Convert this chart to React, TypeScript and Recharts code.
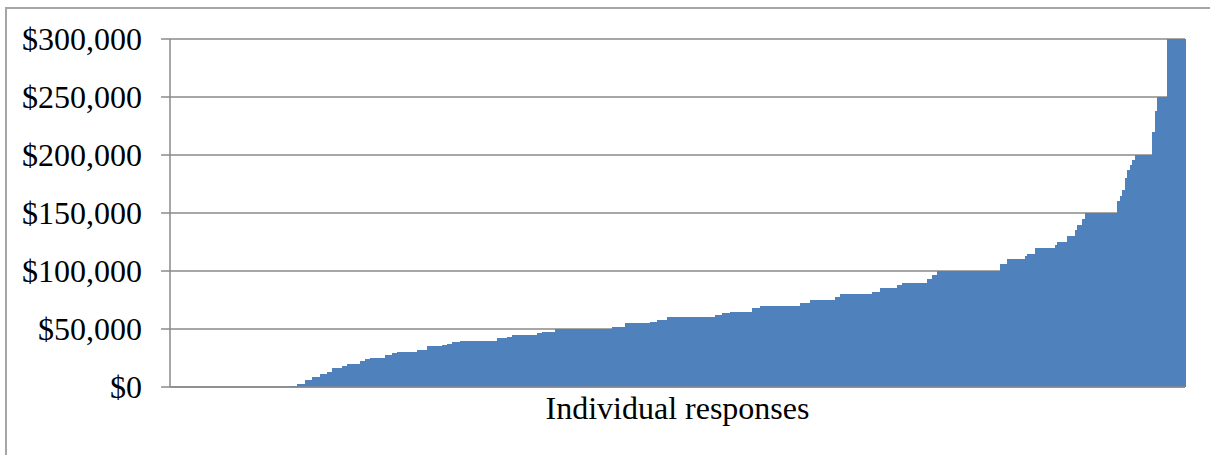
import React from 'react';
import { BarChart, Bar, XAxis, YAxis, CartesianGrid, Label } from 'recharts';

// sorted responses: each salary level and how many responses sit at it
const salaryLevels = [
  0, 1000, 3000, 6000, 9000, 11000, 13000, 16000, 18000, 20000,
  22000, 24000, 25000, 28000, 29000, 30000, 32000, 35000, 36000, 37500,
  39000, 40000, 42000, 43500, 45000, 46500, 47500, 50000, 52000, 55000,
  56000, 58000, 60000, 62500, 64000, 65000, 68000, 70000, 72000, 75000,
  78000, 80000, 82000, 85000, 88000, 90000, 93000, 96500, 100000, 106000,
  110000, 113000, 115000, 120000, 122000, 125000, 130000, 135000, 140000, 145000,
  150000, 160000, 165000, 170000, 180000, 187000, 191000, 196000, 200000, 220000,
  238000, 250000, 300000,
];
const responseCounts = [
  48, 3, 3, 3, 3, 3, 2, 4, 2, 5,
  2, 2, 6, 3, 2, 8, 4, 6, 2, 2,
  3, 15, 4, 2, 10, 2, 5, 23, 5, 10,
  3, 4, 19, 3, 3, 9, 3, 16, 4, 10,
  2, 13, 3, 7, 2, 10, 2, 2, 25, 3,
  7, 1, 3, 8, 1, 4, 3, 1, 2, 1,
  13, 1, 1, 1, 1, 1, 1, 1, 7, 1,
  1, 4, 7,
];
const yTicks = [0, 50000, 100000, 150000, 200000, 250000, 300000];
const xTitle = 'Individual responses';

const data: { id: number; salary: number }[] = [];
salaryLevels.forEach((level, i) => {
  for (let k = 0; k < responseCounts[i]; k++) {
    data.push({ id: data.length + 1, salary: level });
  }
});

const FONT = '"Liberation Serif", "Times New Roman", serif';
const GRID = '#8a8a8a';
const BLUE = '#4F81BD';

// columns touch each other, so widen each one a little and snap to pixels (no seams)
const SolidColumn = (props: any) => {
  const { x, y, width, height } = props;
  if (!height || height <= 0) return null;
  return (
    <rect
      x={x - 0.5}
      y={y}
      width={width + 1}
      height={height}
      fill={BLUE}
      shapeRendering="crispEdges"
    />
  );
};

const App: React.FC = () => {
  return (
    <div style={{ position: 'absolute', left: 0, top: 0, width: 1210, height: 455, overflow: 'hidden', background: '#fff' }}>
      <div
        style={{
          position: 'absolute', left: 5, top: 7, width: 1300, height: 600,
          borderLeft: '2px solid #a6a6a6', borderTop: '2px solid #a6a6a6',
        }}
      />
      <div style={{ position: 'absolute', left: 0, top: 0 }}>
        <BarChart
          width={1210}
          height={455}
          data={data}
          margin={{ top: 39, right: 25, left: 0, bottom: 0 }}
          barCategoryGap={0}
          barGap={0}
        >
          <CartesianGrid vertical={false} stroke={GRID} strokeWidth={1.5} />
          <XAxis
            dataKey="id"
            height={68}
            tick={false}
            tickLine={false}
            axisLine={{ stroke: GRID, strokeWidth: 1.5 }}
          >
            <Label
              value={xTitle}
              position="insideTop"
              offset={9}
              style={{ fontFamily: FONT, fontSize: 32, fill: '#000' }}
            />
          </XAxis>
          <YAxis
            width={170}
            domain={[0, 300000]}
            ticks={yTicks}
            interval={0}
            tickSize={9}
            tickMargin={19}
            tickLine={{ stroke: GRID, strokeWidth: 1.5 }}
            axisLine={{ stroke: GRID, strokeWidth: 1.5 }}
            tick={{ fontFamily: FONT, fontSize: 32, fill: '#000' }}
            tickFormatter={(v: number) => `$${v.toLocaleString('en-US')}`}
          />
          <Bar
            dataKey="salary"
            fill={BLUE}
            shape={SolidColumn}
            isAnimationActive={false}
          />
        </BarChart>
      </div>
    </div>
  );
};

export default App;
